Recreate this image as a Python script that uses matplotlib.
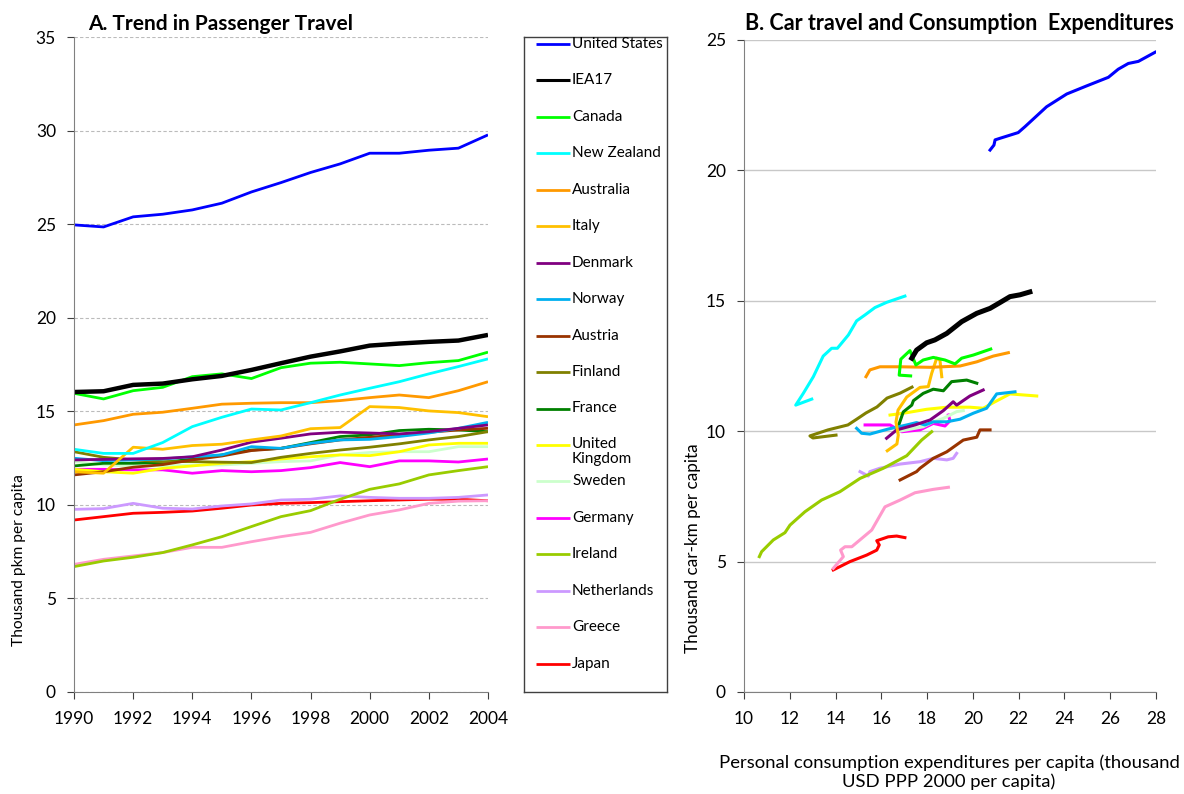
import matplotlib.pyplot as plt
import numpy as np

plt.rcParams['font.family'] = ['Lato', 'DejaVu Sans']

years = list(range(1990, 2005))

countries = ["United States", "IEA17", "Canada", "New Zealand", "Australia", "Italy",
             "Denmark", "Norway", "Austria", "Finland", "France", "United\nKingdom",
             "Sweden", "Germany", "Ireland", "Netherlands", "Greece", "Japan"]
colors = ["#0000FF", "#000000", "#00FF00", "#00FFFF", "#FF9900", "#FFC000",
          "#800080", "#00B0F0", "#993300", "#808000", "#008000", "#FFFF00",
          "#CCFFCC", "#FF00FF", "#99CC00", "#CC99FF", "#FF99CC", "#FF0000"]

# A. passenger travel, thousand pkm per capita, 1990-2004
pkm_us = [24.96, 24.85, 25.39, 25.53, 25.76, 26.12, 26.72, 27.22, 27.76, 28.22, 28.79, 28.79, 28.95, 29.06, 29.77]
pkm_iea = [16.03, 16.07, 16.41, 16.48, 16.71, 16.89, 17.21, 17.57, 17.92, 18.2, 18.51, 18.62, 18.71, 18.78, 19.08]
pkm_can = [15.96, 15.66, 16.1, 16.28, 16.85, 17.0, 16.75, 17.33, 17.57, 17.62, 17.53, 17.44, 17.6, 17.71, 18.16]
pkm_nz = [12.97, 12.75, 12.75, 13.33, 14.18, 14.68, 15.12, 15.07, 15.46, 15.87, 16.23, 16.58, 17.0, 17.39, 17.8]
pkm_aus = [14.27, 14.5, 14.84, 14.95, 15.16, 15.38, 15.43, 15.46, 15.46, 15.57, 15.73, 15.87, 15.73, 16.1, 16.58]
pkm_ita = [11.77, 11.69, 13.08, 12.97, 13.17, 13.24, 13.47, 13.68, 14.07, 14.13, 15.25, 15.2, 15.02, 14.93, 14.71]
pkm_den = [12.4, 12.43, 12.46, 12.48, 12.57, 12.93, 13.35, 13.56, 13.79, 13.88, 13.84, 13.79, 13.91, 14.09, 14.27]
pkm_nor = [12.49, 12.36, 12.4, 12.45, 12.57, 12.67, 13.11, 13.02, 13.29, 13.47, 13.5, 13.65, 13.84, 14.09, 14.41]
pkm_aut = [11.6, 11.77, 12.01, 12.15, 12.4, 12.61, 12.9, 13.02, 13.26, 13.47, 13.61, 13.74, 13.88, 14.0, 14.09]
pkm_fin = [12.84, 12.54, 12.4, 12.31, 12.31, 12.28, 12.26, 12.54, 12.75, 12.93, 13.08, 13.26, 13.47, 13.65, 13.91]
pkm_fra = [12.08, 12.22, 12.22, 12.26, 12.45, 12.67, 12.93, 13.02, 13.33, 13.65, 13.74, 13.97, 14.04, 14.0, 13.91]
pkm_uk = [11.9, 11.77, 11.69, 11.95, 12.08, 12.22, 12.31, 12.45, 12.57, 12.67, 12.63, 12.84, 13.2, 13.29, 13.29]
pkm_swe = [12.31, 12.13, 12.08, 12.08, 12.13, 12.13, 12.22, 12.31, 12.35, 12.67, 12.8, 12.84, 12.84, 13.11, 13.11]
pkm_ger = [11.9, 11.9, 11.87, 11.87, 11.69, 11.83, 11.77, 11.83, 11.99, 12.26, 12.04, 12.35, 12.35, 12.29, 12.45]
pkm_ire = [6.7, 7.0, 7.2, 7.45, 7.86, 8.3, 8.84, 9.37, 9.69, 10.3, 10.83, 11.12, 11.6, 11.83, 12.04]
pkm_nld = [9.76, 9.8, 10.08, 9.82, 9.78, 9.94, 10.05, 10.26, 10.3, 10.48, 10.4, 10.35, 10.35, 10.4, 10.53]
pkm_gre = [6.82, 7.09, 7.27, 7.45, 7.73, 7.73, 8.03, 8.3, 8.53, 9.02, 9.46, 9.73, 10.08, 10.2, 10.22]
pkm_jpn = [9.19, 9.37, 9.55, 9.6, 9.67, 9.82, 9.99, 10.08, 10.12, 10.17, 10.22, 10.26, 10.3, 10.3, 10.22]

# B. consumption expenditures (x) vs car travel (y), thousand per capita
pce_us = [20.75, 20.92, 20.97, 21.18, 21.98, 22.28, 23.22, 24.10, 24.97, 25.92, 26.35, 26.79, 27.23, 27.96]
car_us = [20.78, 20.97, 21.17, 21.23, 21.45, 21.68, 22.44, 22.93, 23.24, 23.57, 23.88, 24.10, 24.18, 24.53]
pce_iea = [17.33, 17.54, 17.98, 18.34, 18.86, 19.51, 20.17, 20.75, 21.18, 21.62, 22.06, 22.49]
car_iea = [12.80, 13.11, 13.39, 13.50, 13.75, 14.20, 14.52, 14.71, 14.93, 15.16, 15.23, 15.34]
pce_can = [17.28, 16.78, 16.85, 17.25, 17.51, 17.83, 18.27, 18.78, 19.22, 19.51, 20.02, 20.45, 20.78]
car_can = [12.12, 12.15, 12.76, 13.09, 12.54, 12.73, 12.83, 12.73, 12.58, 12.80, 12.92, 13.05, 13.15]
pce_nz = [12.96, 12.26, 12.59, 13.03, 13.46, 13.83, 14.08, 14.56, 14.92, 15.29, 15.72, 16.23, 17.03]
car_nz = [11.23, 11.0, 11.45, 12.09, 12.88, 13.18, 13.18, 13.69, 14.23, 14.46, 14.74, 14.94, 15.18]
pce_aus = [15.33, 15.50, 15.94, 16.82, 18.13, 19.44, 20.17, 20.89, 21.55]
car_aus = [12.09, 12.35, 12.47, 12.47, 12.45, 12.50, 12.66, 12.88, 13.01]
pce_ita = [16.26, 16.68, 16.74, 16.64, 16.73, 17.11, 17.69, 18.05, 18.20, 18.42, 18.56, 18.64]
car_ita = [9.25, 9.51, 9.85, 10.35, 10.81, 11.31, 11.68, 11.71, 12.22, 12.80, 12.73, 12.09]
pce_den = [16.23, 16.67, 17.47, 18.13, 18.71, 19.14, 19.29, 19.87, 20.45]
car_den = [9.73, 10.05, 10.24, 10.43, 10.79, 11.13, 11.00, 11.35, 11.58]
pce_nor = [14.92, 15.14, 15.50, 15.87, 16.29, 17.11, 17.54, 17.91, 18.27, 18.86, 19.44, 20.02, 20.60, 21.04, 21.84]
car_nor = [10.11, 9.92, 9.89, 9.98, 10.08, 10.24, 10.33, 10.24, 10.36, 10.36, 10.46, 10.69, 10.88, 11.43, 11.51]
pce_aut = [16.82, 17.54, 17.69, 18.27, 18.86, 19.58, 20.17, 20.31, 20.75]
car_aut = [8.13, 8.45, 8.58, 8.96, 9.21, 9.66, 9.77, 10.05, 10.05]
pce_fin = [14.02, 13.01, 12.88, 13.67, 14.54, 14.94, 15.33, 15.81, 16.25, 16.82, 17.34]
car_fin = [9.85, 9.74, 9.82, 10.05, 10.24, 10.47, 10.70, 10.93, 11.27, 11.46, 11.69]
pce_fra = [16.73, 16.96, 17.33, 17.40, 17.83, 18.27, 18.71, 19.07, 19.73, 20.17]
car_fra = [10.16, 10.74, 11.00, 11.17, 11.45, 11.61, 11.55, 11.90, 11.96, 11.84]
pce_uk = [16.38, 17.11, 17.98, 18.86, 19.87, 20.45, 20.97, 21.62, 22.79]
car_uk = [10.62, 10.71, 10.84, 10.92, 10.92, 10.88, 11.13, 11.43, 11.35]
pce_swe = [16.67, 17.83, 18.27, 18.71, 19.29, 19.58]
car_swe = [9.98, 10.17, 10.36, 10.49, 10.75, 10.79]
pce_ger = [15.29, 16.38, 16.89, 17.69, 18.27, 18.78, 19.00, 18.93]
car_ger = [10.24, 10.24, 9.98, 10.05, 10.30, 10.20, 10.40, 10.62]
pce_ire = [10.67, 10.77, 11.28, 11.79, 12.01, 12.66, 13.39, 14.19, 15.07, 16.09, 17.11, 17.76, 18.20]
car_ire = [5.19, 5.38, 5.83, 6.11, 6.40, 6.91, 7.36, 7.68, 8.19, 8.58, 9.06, 9.66, 9.98]
pce_nld = [15.07, 15.43, 15.50, 15.94, 16.82, 17.69, 18.27, 18.86, 19.14, 19.29]
car_nld = [8.45, 8.28, 8.45, 8.58, 8.74, 8.83, 8.96, 8.90, 8.96, 9.15]
pce_gre = [13.90, 14.34, 14.22, 14.41, 14.71, 15.58, 16.16, 16.82, 17.47, 18.27, 18.93]
car_gre = [4.74, 5.19, 5.44, 5.57, 5.57, 6.21, 7.10, 7.36, 7.64, 7.77, 7.85]
pce_jpn = [13.90, 14.63, 15.36, 15.80, 15.91, 15.80, 16.30, 16.67, 17.03]
car_jpn = [4.68, 5.00, 5.25, 5.44, 5.64, 5.80, 5.95, 5.98, 5.92]

pkm = [pkm_us, pkm_iea, pkm_can, pkm_nz, pkm_aus, pkm_ita, pkm_den, pkm_nor, pkm_aut,
       pkm_fin, pkm_fra, pkm_uk, pkm_swe, pkm_ger, pkm_ire, pkm_nld, pkm_gre, pkm_jpn]
pce = [pce_us, pce_iea, pce_can, pce_nz, pce_aus, pce_ita, pce_den, pce_nor, pce_aut,
       pce_fin, pce_fra, pce_uk, pce_swe, pce_ger, pce_ire, pce_nld, pce_gre, pce_jpn]
car = [car_us, car_iea, car_can, car_nz, car_aus, car_ita, car_den, car_nor, car_aut,
       car_fin, car_fra, car_uk, car_swe, car_ger, car_ire, car_nld, car_gre, car_jpn]

fig = plt.figure(figsize=(11.84, 7.94), dpi=100)
W, H = 1184, 794

def box(x0, y0, x1, y1):
    return [x0 / W, 1 - y1 / H, (x1 - x0) / W, (y1 - y0) / H]

# ---- panel A
axA = fig.add_axes(box(74, 37, 488, 692))
# draw in reverse so US/IEA sit on top
for i in reversed(range(len(countries))):
    lw = 3.2 if countries[i] == "IEA17" else 2.0
    axA.plot(years, pkm[i], color=colors[i], lw=lw, solid_capstyle='butt')
axA.set_xlim(1990, 2004)
axA.set_ylim(0, 35)
axA.set_xticks(range(1990, 2005, 2))
axA.set_yticks(range(0, 36, 5))
axA.grid(axis='y', color='#BBBBBB', ls=(0, (3, 2)), lw=0.8)
axA.set_axisbelow(True)
for s in ['top', 'right']:
    axA.spines[s].set_visible(False)
for s in ['left', 'bottom']:
    axA.spines[s].set_color('#808080')
axA.tick_params(direction='out', length=5, labelsize=12.5, color='#404040')
axA.tick_params(axis='x', pad=9)
axA.tick_params(axis='y', pad=8)
fig.text(88 / W, 1 - 24 / H, "A. Trend in Passenger Travel", fontsize=15,
         fontweight='bold', va='center', ha='left')
fig.text(19 / W, 1 - 560 / H, "Thousand pkm per capita", rotation=90,
         fontsize=11.2, va='center', ha='center')

# ---- legend box
axL = fig.add_axes(box(524, 37, 667, 692))
axL.set_xlim(0, 143)
axL.set_ylim(655, 0)
axL.set_xticks([])
axL.set_yticks([])
for s in axL.spines.values():
    s.set_color('#404040')
    s.set_linewidth(1.0)
for i, name in enumerate(countries):
    yy = 7 + 36.45 * i
    lw = 2.2 if name == "IEA17" else 2.0
    axL.plot([12, 46], [yy, yy], color=colors[i], lw=lw, solid_capstyle='butt')
    if "\n" in name:
        axL.text(48, yy - 8, name, fontsize=11, va='top', ha='left', linespacing=1.05)
    else:
        axL.text(48, yy, name, fontsize=11, va='center', ha='left')

# ---- panel B
axB = fig.add_axes(box(744, 40, 1156, 692))
for i in reversed(range(len(countries))):
    lw = 3.6 if countries[i] == "IEA17" else 2.2
    axB.plot(pce[i], car[i], color=colors[i], lw=lw, solid_joinstyle='round')
axB.set_xlim(10, 28)
axB.set_ylim(0, 25)
axB.set_xticks(range(10, 29, 2))
axB.set_yticks(range(0, 26, 5))
axB.grid(axis='y', color='#C8C8C8', lw=1.0)
axB.set_axisbelow(True)
for s in ['top', 'right']:
    axB.spines[s].set_visible(False)
for s in ['left', 'bottom']:
    axB.spines[s].set_color('#808080')
axB.tick_params(direction='out', length=5, labelsize=12.5, color='#404040')
axB.tick_params(axis='x', pad=9)
axB.tick_params(axis='y', pad=8)
fig.text(745 / W, 1 - 24 / H, "B. Car travel and Consumption  Expenditures", fontsize=15.5,
         fontweight='bold', va='center', ha='left')
fig.text(693 / W, 1 - 548 / H, "Thousand car-km per capita", rotation=90,
         fontsize=12.3, va='center', ha='center')
fig.text(949 / W, 1 - 772 / H,
         "Personal consumption expenditures per capita (thousand\nUSD PPP 2000 per capita)",
         fontsize=13.3, va='center', ha='center', linespacing=1.2)

fig.savefig("out.png", dpi=100)
